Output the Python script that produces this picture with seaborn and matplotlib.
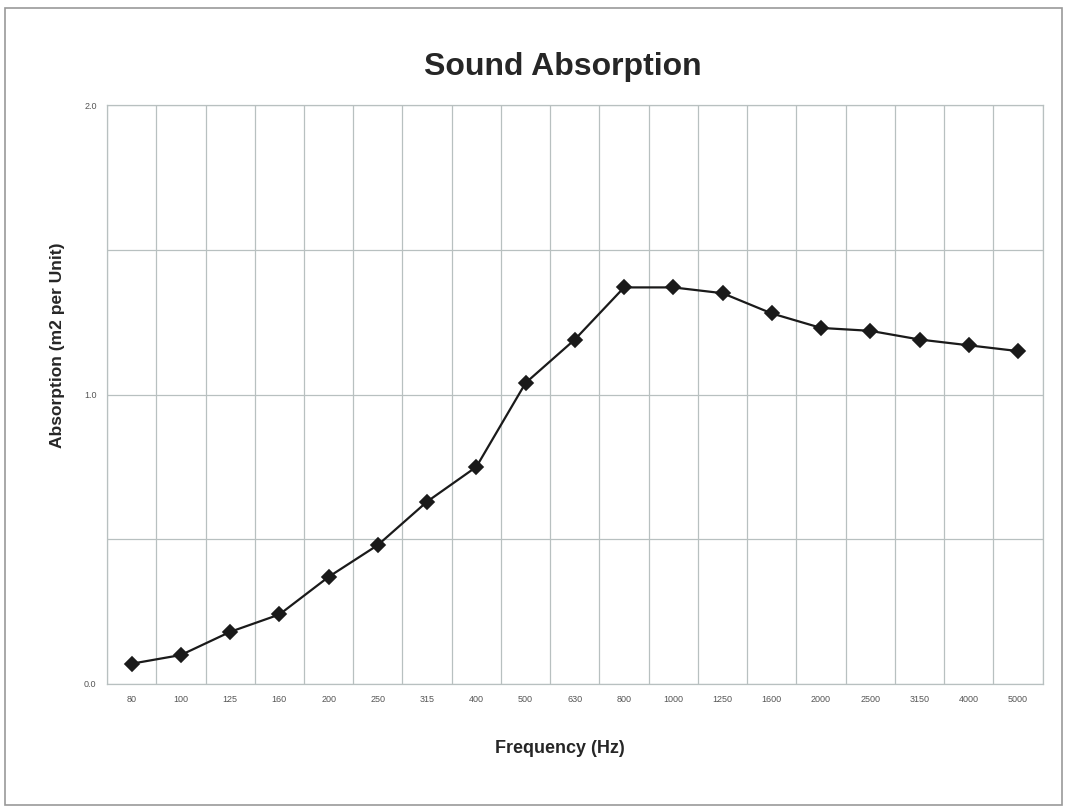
import pandas as pd
import matplotlib.pyplot as plt
import seaborn as sns
from matplotlib.ticker import MultipleLocator, FuncFormatter

freqs = ['80', '100', '125', '160', '200', '250', '315', '400', '500', '630',
         '800', '1000', '1250', '1600', '2000', '2500', '3150', '4000', '5000']
absorption = [0.07, 0.10, 0.18, 0.24, 0.37, 0.48, 0.63, 0.75, 1.04, 1.19,
              1.37, 1.37, 1.35, 1.28, 1.23, 1.22, 1.19, 1.17, 1.15]

df = pd.DataFrame({'Frequency': freqs, 'Absorption': absorption})

sns.set_style('white')
plt.rcParams['font.family'] = ['Liberation Sans', 'DejaVu Sans']

fig = plt.figure(figsize=(10.65, 8.1), dpi=100)
ax = fig.add_axes([0.1005, 0.1556, 0.8785, 0.7147])

grid_c = '#b8c0c0'
sns.pointplot(data=df, x='Frequency', y='Absorption', order=freqs, color='#1a1a1a',
              markers='D', markersize=7, linewidth=1.6, ax=ax)

ax.set_ylim(0, 2.0)
ax.set_xlim(-0.5, len(freqs) - 0.5)
ax.yaxis.set_major_locator(MultipleLocator(0.5))
ax.yaxis.set_major_formatter(FuncFormatter(lambda v, p: f'{v:.1f}' if abs(v - round(v)) < 1e-6 else ''))
ax.set_xticks([i - 0.5 for i in range(len(freqs) + 1)], minor=True)
ax.grid(True, axis='y', which='major', color=grid_c, linewidth=0.9)
ax.grid(True, axis='x', which='minor', color=grid_c, linewidth=0.9)
ax.grid(False, axis='x', which='major')
ax.tick_params(axis='x', which='major', length=0, labelsize=6.5, labelcolor='#555555', pad=8)
ax.tick_params(axis='x', which='minor', length=4, color=grid_c, direction='out')
ax.tick_params(axis='y', which='major', length=4, color=grid_c, labelsize=6.5, labelcolor='#555555', direction='out')
for s in ax.spines.values():
    s.set_color(grid_c)
    s.set_linewidth(0.9)

ax.set_xlabel('Frequency (Hz)', fontsize=13, fontweight='bold')
ax.xaxis.set_label_coords(0.484, -0.096)
ax.set_ylabel('Absorption (m2 per Unit)', fontsize=12.5, fontweight='bold')
ax.yaxis.set_label_coords(-0.045, 0.585)
fig.text(0.528, 0.917, 'Sound Absorption', ha='center', va='center', fontsize=23, fontweight='bold')

border = plt.Rectangle((0.005, 0.006), 0.992, 0.984, transform=fig.transFigure,
                       fill=False, edgecolor='#999999', linewidth=1.2)
fig.patches.append(border)

fig.savefig('out.png', dpi=100)
